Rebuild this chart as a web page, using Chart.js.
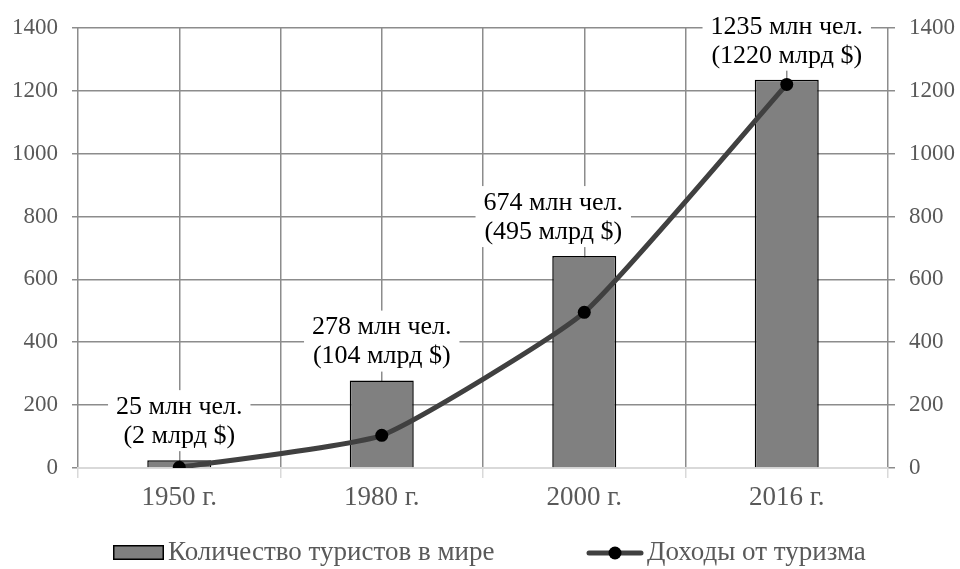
<!DOCTYPE html>
<html>
<head>
<meta charset="utf-8">
<script src="https://cdn.jsdelivr.net/npm/chart.js@4.4.0/dist/chart.umd.min.js"></script>
<style>
html,body{margin:0;padding:0;background:#fff;}
#wrap{width:960px;height:569px;position:relative;}
</style>
</head>
<body>
<div id="wrap"><canvas id="c" width="960" height="569"></canvas></div>
<script>
const categories = ['1950 г.', '1980 г.', '2000 г.', '2016 г.'];
const tourists = [25, 278, 674, 1235];
const income = [2, 104, 495, 1220];
const seriesNames = ['Количество туристов в мире', 'Доходы от туризма'];
const yTicks = [0, 200, 400, 600, 800, 1000, 1200, 1400];

const FONT = '"Liberation Serif", "Times New Roman", serif';
const GRID = '#8c8c8c';
const TICK_TXT = '#595959';
// horizontal nudge of individual data labels (style only)
const LABEL_NUDGE = { 2: -31 };

const labelPlugin = {
  id: 'valueLabels',
  afterDatasetDraw(chart, args) {
    if (args.index !== 1) return;
    const ctx = chart.ctx;
    const meta = args.meta;
    ctx.save();
    ctx.font = '26px ' + FONT;
    ctx.textAlign = 'center';
    ctx.textBaseline = 'middle';
    meta.data.forEach((bar, i) => {
      const l1 = tourists[i] + ' млн чел.';
      const l2 = '(' + income[i] + ' млрд $)';
      const w = Math.max(ctx.measureText(l1).width, ctx.measureText(l2).width) + 16;
      const x = bar.x + (LABEL_NUDGE[i] || 0), y = bar.y;
      ctx.fillStyle = '#ffffff';
      ctx.fillRect(x - w / 2, y - 70, w, 61);
      ctx.fillStyle = '#000000';
      ctx.fillText(l1, x, y - 53);
      ctx.fillText(l2, x, y - 24);
    });
    ctx.restore();
  }
};

const legendPlugin = {
  id: 'customLegend',
  afterDraw(chart) {
    const ctx = chart.ctx;
    ctx.save();
    ctx.font = '27px ' + FONT;
    ctx.textBaseline = 'middle';
    ctx.textAlign = 'left';
    const cy = 553;
    // bar swatch
    ctx.fillStyle = '#808080';
    ctx.fillRect(113, cy - 8, 51, 15);
    ctx.lineWidth = 1.5;
    ctx.strokeStyle = '#000';
    ctx.strokeRect(113.75, cy - 7.25, 49.5, 13.5);
    ctx.fillStyle = TICK_TXT;
    ctx.fillText(seriesNames[0], 168, cy);
    // line swatch
    ctx.strokeStyle = '#404040';
    ctx.lineWidth = 5;
    ctx.lineCap = 'round';
    ctx.beginPath();
    ctx.moveTo(589, cy);
    ctx.lineTo(641, cy);
    ctx.stroke();
    ctx.fillStyle = '#000';
    ctx.beginPath();
    ctx.arc(615, cy, 6.5, 0, Math.PI * 2);
    ctx.fill();
    ctx.fillStyle = TICK_TXT;
    ctx.fillText(seriesNames[1], 647, cy);
    ctx.restore();
  }
};

new Chart(document.getElementById('c'), {
  data: {
    labels: categories,
    datasets: [
      {
        type: 'line',
        label: seriesNames[1],
        data: income,
        yAxisID: 'y2',
        borderColor: '#404040',
        borderWidth: 5,
        pointRadius: 6.5,
        pointBackgroundColor: '#000',
        pointBorderColor: '#000',
        pointBorderWidth: 0,
        tension: 0.15,
        order: 0
      },
      {
        type: 'bar',
        label: seriesNames[0],
        data: tourists,
        yAxisID: 'y',
        backgroundColor: '#808080',
        borderColor: '#000',
        borderWidth: 1.5,
        barPercentage: 0.316,
        categoryPercentage: 1.0,
        order: 1
      }
    ]
  },
  options: {
    responsive: false,
    animation: false,
    devicePixelRatio: 1,
    layout: { padding: { top: 26, left: 0, right: 0, bottom: 0 } },
    plugins: { legend: { display: false }, tooltip: { enabled: false } },
    scales: {
      x: {
        type: 'category',
        offset: true,
        position: 'bottom',
        grid: { offset: true, color: GRID, lineWidth: 1.5, tickLength: 10, tickColor: '#d9d9d9', tickWidth: 1.5 },
        border: { color: '#d9d9d9', width: 2 },
        ticks: { color: TICK_TXT, font: { family: FONT, size: 27 }, padding: 4 },
        afterFit: s => { s.height = 101; }
      },
      x2: {
        type: 'category',
        labels: categories,
        offset: true,
        position: 'bottom',
        grid: { offset: false, color: GRID, lineWidth: 1.5, drawTicks: false },
        border: { display: false },
        ticks: { display: false },
        afterFit: s => { s.height = 0; }
      },
      y: {
        position: 'left',
        min: 0, max: 1400,
        afterBuildTicks: s => { s.ticks = yTicks.map(v => ({ value: v })); },
        grid: {
          color: c => (c.tick && c.tick.value === 0) ? 'rgba(0,0,0,0)' : GRID,
          lineWidth: 1.5, tickLength: 6, tickColor: GRID
        },
        border: { display: false },
        ticks: { color: TICK_TXT, font: { family: FONT, size: 23 }, padding: 14, callback: v => String(v) },
        afterFit: s => { s.width = 78; }
      },
      y2: {
        position: 'right',
        min: 0, max: 1400,
        afterBuildTicks: s => { s.ticks = yTicks.map(v => ({ value: v })); },
        grid: { drawOnChartArea: false, lineWidth: 1.5, tickLength: 7, tickColor: GRID },
        border: { display: false },
        ticks: { color: TICK_TXT, font: { family: FONT, size: 23 }, padding: 14, callback: v => String(v) },
        afterFit: s => { s.width = 72; }
      }
    }
  },
  plugins: [labelPlugin, legendPlugin]
});
</script>
</body>
</html>
